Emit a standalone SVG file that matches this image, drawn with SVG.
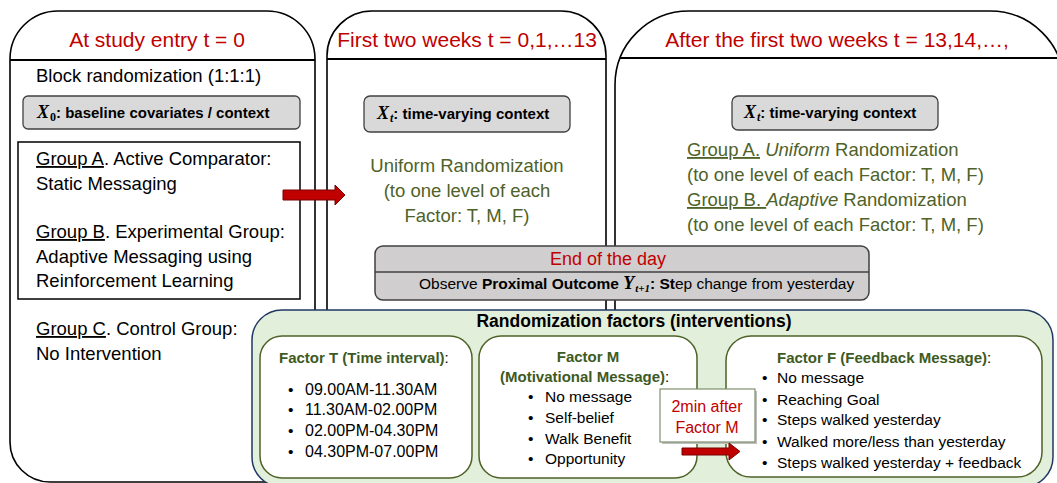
<svg xmlns="http://www.w3.org/2000/svg" width="1057" height="483" viewBox="0 0 1057 483">
<defs>
<style>
  text { font-family: "Liberation Sans", Arial, sans-serif; }
  .panel { fill: #fff; stroke: #000; stroke-width: 1.6; }
  .hdr { stroke: #000; stroke-width: 2; }
  .head { font-size: 21px; fill: #c00000; text-anchor: middle; }
  .body { font-size: 18.5px; fill: #000; }
  .green { font-size: 18.5px; fill: #4f6228; }
  .ctx { fill: #d9d9d9; stroke: #404040; stroke-width: 1.3; }
  .ctxt { font-size: 15px; font-weight: bold; fill: #000; }
  .math { font-family: "Liberation Serif", serif; font-style: italic; font-weight: bold; }
  .factor { fill: #fff; stroke: #4f6228; stroke-width: 1.5; }
  .ftitle { font-size: 15px; font-weight: bold; fill: #3d5a1f; }
  .colon { font-weight: normal; fill: #000; }
  .item { font-size: 15.5px; fill: #000; }
  .arrow { fill: #c00000; stroke: #7a0000; stroke-width: 1; }
  .u { text-decoration: underline; }
  .i { font-style: italic; }
</style>
</defs>

<!-- Phase 1: study entry -->
<g id="panel-entry">
  <path class="panel" d="M10,59 A48,48 0 0 1 58,11 H267 A48,48 0 0 1 315,59 V482 H50 A40,40 0 0 1 10,442 Z"/>
  <line class="hdr" x1="10" y1="60" x2="315" y2="60"/>
  <text class="head" x="157" y="47">At study entry t = 0</text>
  <text class="body" x="36" y="82">Block randomization (1:1:1)</text>
  <rect class="ctx" x="23" y="96" width="277" height="33" rx="5"/>
  <text class="ctxt" x="37" y="118"><tspan class="math" font-size="18">X</tspan><tspan font-family="Liberation Serif, serif" font-size="12" dx="1" dy="3">0</tspan><tspan dy="-3">: baseline covariates / context</tspan></text>
  <rect x="18" y="142" width="282" height="157" fill="#fff" stroke="#000" stroke-width="1.5"/>
  <text class="body" x="36" y="165"><tspan class="u">Group A</tspan>. Active Comparator:</text>
  <text class="body" x="36" y="190">Static Messaging</text>
  <text class="body" x="36" y="238"><tspan class="u">Group B</tspan>. Experimental Group:</text>
  <text class="body" x="36" y="263">Adaptive Messaging using</text>
  <text class="body" x="36" y="287">Reinforcement Learning</text>
  <text class="body" x="36" y="335"><tspan class="u">Group C</tspan>. Control Group:</text>
  <text class="body" x="36" y="360">No Intervention</text>
</g>

<!-- Phase 2: first two weeks -->
<g id="panel-first-weeks">
  <path class="panel" d="M327,480 V56 A45,45 0 0 1 372,11 H561 A45,45 0 0 1 606,56 V480"/>
  <line class="hdr" x1="327" y1="59" x2="606" y2="59"/>
  <text class="head" x="467" y="47">First two weeks t = 0,1,…13</text>
  <rect class="ctx" x="364" y="96" width="206" height="36" rx="6"/>
  <text class="ctxt" x="377" y="119"><tspan class="math" font-size="18">X</tspan><tspan font-family="Liberation Serif, serif" font-style="italic" font-size="12" dx="1" dy="3">t</tspan><tspan dy="-3">: time-varying context</tspan></text>
  <text class="green" x="467" y="172" text-anchor="middle">Uniform Randomization</text>
  <text class="green" x="467" y="197" text-anchor="middle">(to one level of each</text>
  <text class="green" x="467" y="222" text-anchor="middle">Factor: T, M, F)</text>
</g>

<!-- Phase 3: after the first two weeks -->
<g id="panel-after-weeks">
  <path class="panel" d="M615,480 V85 A74,74 0 0 1 689,11 H990 A74,74 0 0 1 1064,85 V480"/>
  <line class="hdr" x1="620" y1="58" x2="1059" y2="58"/>
  <text class="head" x="837" y="47">After the first two weeks t = 13,14,…,</text>
  <rect class="ctx" x="732" y="96" width="206" height="34" rx="6"/>
  <text class="ctxt" x="744" y="118"><tspan class="math" font-size="18">X</tspan><tspan font-family="Liberation Serif, serif" font-style="italic" font-size="12" dx="1" dy="3">t</tspan><tspan dy="-3">: time-varying context</tspan></text>
  <text class="green" x="687" y="156"><tspan class="u">Group A.</tspan> <tspan class="i">Uniform</tspan> Randomization</text>
  <text class="green" x="687" y="181">(to one level of each Factor: T, M, F)</text>
  <text class="green" x="687" y="206"><tspan class="u">Group B. </tspan><tspan class="i">Adaptive</tspan> Randomization</text>
  <text class="green" x="687" y="231">(to one level of each Factor: T, M, F)</text>
</g>

<!-- Daily outcome -->
<g id="end-of-day">
  <rect x="375" y="246" width="494" height="54" rx="8" fill="#d0cece" stroke="#404040" stroke-width="1.5"/>
  <line x1="375" y1="272" x2="869" y2="272" stroke="#404040" stroke-width="1.3"/>
  <text x="608" y="265" text-anchor="middle" font-size="18" fill="#c00000">End of the day</text>
  <text x="419" y="289" font-size="15.5" fill="#000">Observe <tspan font-weight="bold">Proximal Outcome </tspan><tspan class="math" font-size="18">Y</tspan><tspan class="math" font-size="11" dx="1" dy="3">t+1</tspan><tspan dy="-3" font-weight="bold">: St</tspan>ep change from yesterday</text>
</g>

<!-- Randomization factors -->
<g id="factors">
  <rect x="252" y="310" width="801" height="177" rx="30" fill="#e2efda" stroke="#1f3864" stroke-width="1.5"/>
  <text x="634" y="327" text-anchor="middle" font-size="17.5" font-weight="bold" fill="#000">Randomization factors (interventions)</text>
</g>

<g id="factor-t">
  <rect class="factor" x="260" y="336" width="212" height="142" rx="22"/>
  <text class="ftitle" x="279" y="363">Factor T (Time interval)<tspan class="colon">:</tspan></text>
  <g class="item" font-size="16">
    <text x="288" y="395">•</text><text x="305" y="395" font-size="16">09.00AM-11.30AM</text>
    <text x="288" y="415">•</text><text x="305" y="415" font-size="16">11.30AM-02.00PM</text>
    <text x="288" y="436">•</text><text x="305" y="436" font-size="16">02.00PM-04.30PM</text>
    <text x="288" y="457">•</text><text x="305" y="457" font-size="16">04.30PM-07.00PM</text>
  </g>
</g>

<g id="factor-m">
  <rect class="factor" x="479" y="336" width="218" height="142" rx="22"/>
  <text class="ftitle" x="588" y="362" text-anchor="middle">Factor M</text>
  <text class="ftitle" x="500" y="382">(Motivational Message)<tspan class="colon">:</tspan></text>
  <g class="item">
    <text x="528" y="402">•</text><text x="545" y="402">No message</text>
    <text x="528" y="423">•</text><text x="545" y="423">Self-belief</text>
    <text x="528" y="444">•</text><text x="545" y="444">Walk Benefit</text>
    <text x="528" y="464">•</text><text x="545" y="464">Opportunity</text>
  </g>
</g>

<g id="factor-f">
  <rect class="factor" x="726" y="336" width="316" height="141" rx="25"/>
  <text class="ftitle" x="777" y="363">Factor F (Feedback Message)<tspan class="colon">:</tspan></text>
  <g class="item">
    <text x="762" y="383">•</text><text x="777" y="383">No message</text>
    <text x="762" y="405">•</text><text x="777" y="405">Reaching Goal</text>
    <text x="762" y="425">•</text><text x="777" y="425">Steps walked yesterday</text>
    <text x="762" y="447">•</text><text x="777" y="447">Walked more/less than yesterday</text>
    <text x="762" y="468">•</text><text x="777" y="468">Steps walked yesterday + feedback</text>
  </g>
</g>

<g id="delay-note">
  <rect x="662" y="391" width="95" height="53" fill="#bfbfbf"/>
  <rect x="660" y="389" width="95" height="53" fill="#fff" stroke="#7f8f6f" stroke-width="1.2"/>
  <text x="707" y="412" text-anchor="middle" font-size="16" fill="#c00000">2min after</text>
  <text x="707" y="433" text-anchor="middle" font-size="16" fill="#c00000">Factor M</text>
</g>

<!-- Connectors -->
<g id="connectors">
  <polygon class="arrow" points="283,190 335,190 335,185 345,195 335,205 335,200 283,200"/>
  <polygon class="arrow" points="682,448 729,448 729,443 740,451.5 729,460 729,455 682,455"/>
</g>
</svg>
